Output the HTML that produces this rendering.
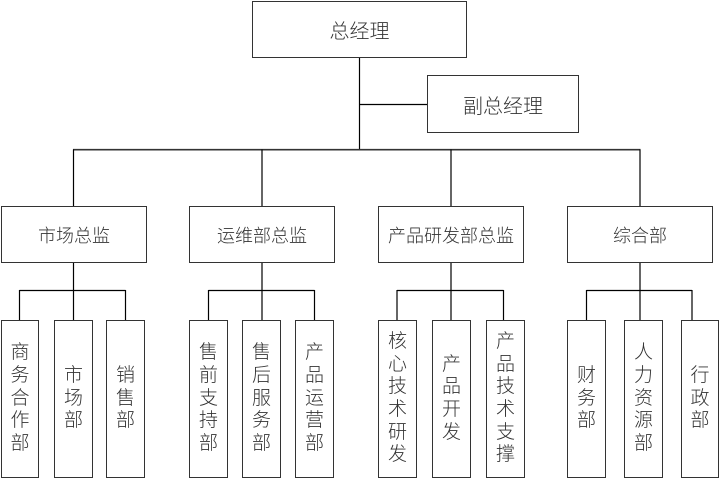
<!DOCTYPE html>
<html>
<head>
<meta charset="utf-8">
<style>
  html,body{margin:0;padding:0;background:#fff;}
  body{width:727px;height:479px;position:relative;overflow:hidden;
    font-family:"Liberation Sans","Noto Sans CJK SC","WenQuanYi Zen Hei",sans-serif;color:#333;font-weight:300;}
  .b{position:absolute;box-sizing:border-box;border:1.3px solid #333;background:#fff;
    display:flex;align-items:center;justify-content:center;}
  .t{font-size:20px;}
  .m{font-size:18px;}
  .v{font-size:19px;line-height:22.7px;flex-direction:column;text-align:center;}
  svg{position:absolute;left:0;top:0;}
</style>
</head>
<body>
<svg width="727" height="479" viewBox="0 0 727 479">
  <g stroke="#000" stroke-width="1.2" fill="none">
    <line x1="359.5" y1="56" x2="359.5" y2="150"/>
    <line x1="359.5" y1="104.5" x2="428" y2="104.5"/>
    <line x1="73" y1="149.7" x2="640.5" y2="149.7" stroke="#333" stroke-width="1.6"/>
    <line x1="73.5" y1="149.5" x2="73.5" y2="207"/>
    <line x1="262" y1="149.5" x2="262" y2="207"/>
    <line x1="451" y1="149.5" x2="451" y2="207"/>
    <line x1="640" y1="149.5" x2="640" y2="207"/>
    <line x1="73.5" y1="262" x2="73.5" y2="321"/>
    <line x1="262" y1="262" x2="262" y2="321"/>
    <line x1="451" y1="262" x2="451" y2="321"/>
    <line x1="640" y1="262" x2="640" y2="321"/>
    <line x1="19.5" y1="290.5" x2="125.5" y2="290.5"/>
    <line x1="208.5" y1="290.5" x2="314.5" y2="290.5"/>
    <line x1="397" y1="290.5" x2="503.5" y2="290.5"/>
    <line x1="586.5" y1="290.5" x2="692" y2="290.5"/>
    <line x1="19.5" y1="290" x2="19.5" y2="321"/>
    <line x1="125.5" y1="290" x2="125.5" y2="321"/>
    <line x1="208.5" y1="290" x2="208.5" y2="321"/>
    <line x1="314.5" y1="290" x2="314.5" y2="321"/>
    <line x1="397" y1="290" x2="397" y2="321"/>
    <line x1="503.5" y1="290" x2="503.5" y2="321"/>
    <line x1="586.5" y1="290" x2="586.5" y2="321"/>
    <line x1="692" y1="290" x2="692" y2="321"/>
  </g>
</svg>

<div class="b t" style="left:252px;top:1px;width:215px;height:57px;">总经理</div>
<div class="b t" style="left:427px;top:75px;width:152px;height:58px;">副总经理</div>

<div class="b m" style="left:1px;top:206px;width:146px;height:57px;">市场总监</div>
<div class="b m" style="left:189px;top:206px;width:146px;height:57px;">运维部总监</div>
<div class="b m" style="left:378px;top:206px;width:146px;height:57px;">产品研发部总监</div>
<div class="b m" style="left:567px;top:206px;width:146px;height:57px;">综合部</div>

<div class="b v" style="left:1px;top:320px;width:38px;height:158px;"><span>商</span><span>务</span><span>合</span><span>作</span><span>部</span></div>
<div class="b v" style="left:54px;top:320px;width:39px;height:158px;"><span>市</span><span>场</span><span>部</span></div>
<div class="b v" style="left:106px;top:320px;width:39px;height:158px;"><span>销</span><span>售</span><span>部</span></div>

<div class="b v" style="left:189px;top:320px;width:39px;height:158px;"><span>售</span><span>前</span><span>支</span><span>持</span><span>部</span></div>
<div class="b v" style="left:242px;top:320px;width:39px;height:158px;"><span>售</span><span>后</span><span>服</span><span>务</span><span>部</span></div>
<div class="b v" style="left:295px;top:320px;width:39px;height:158px;"><span>产</span><span>品</span><span>运</span><span>营</span><span>部</span></div>

<div class="b v" style="left:378px;top:320px;width:39px;height:158px;"><span>核</span><span>心</span><span>技</span><span>术</span><span>研</span><span>发</span></div>
<div class="b v" style="left:432px;top:320px;width:39px;height:158px;"><span>产</span><span>品</span><span>开</span><span>发</span></div>
<div class="b v" style="left:486px;top:320px;width:39px;height:158px;"><span>产</span><span>品</span><span>技</span><span>术</span><span>支</span><span>撑</span></div>

<div class="b v" style="left:567px;top:320px;width:39px;height:158px;"><span>财</span><span>务</span><span>部</span></div>
<div class="b v" style="left:624px;top:320px;width:39px;height:158px;"><span>人</span><span>力</span><span>资</span><span>源</span><span>部</span></div>
<div class="b v" style="left:681px;top:320px;width:38px;height:158px;"><span>行</span><span>政</span><span>部</span></div>
</body>
</html>
